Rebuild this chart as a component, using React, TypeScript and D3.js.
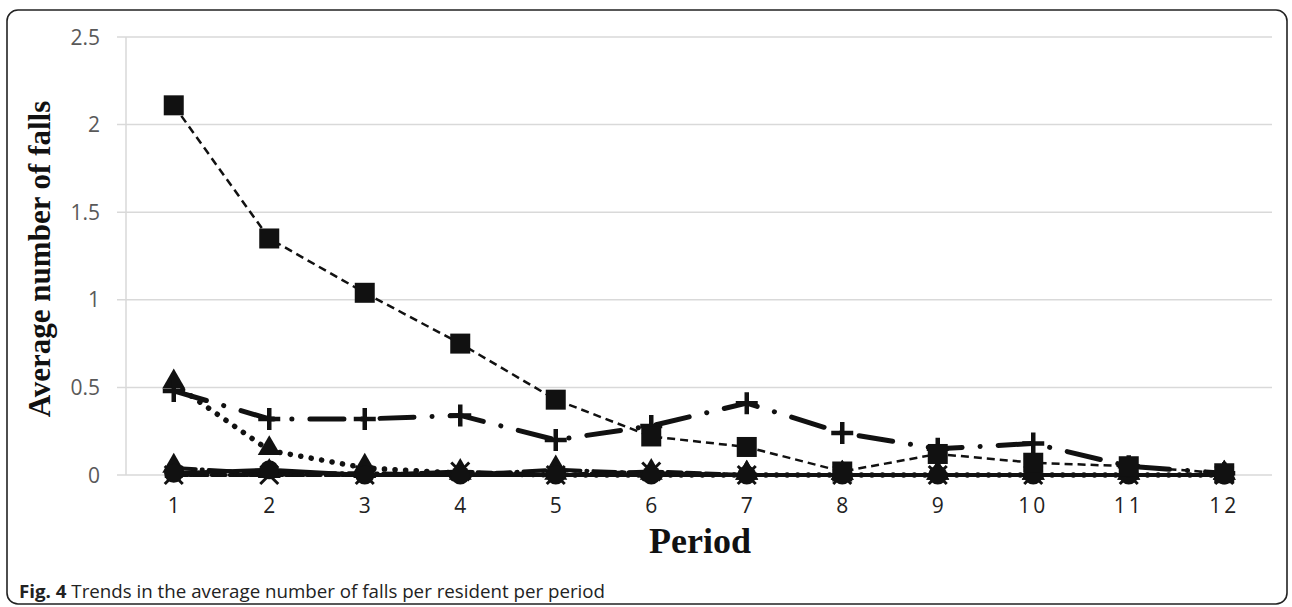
import React from "react";
import * as d3 from "d3";

const periods = ["1", "2", "3", "4", "5", "6", "7", "8", "9", "10", "11", "12"];
const yTicks = [0, 0.5, 1, 1.5, 2, 2.5];

const seriesSquare = [2.11, 1.35, 1.04, 0.75, 0.43, 0.22, 0.16, 0.02, 0.12, 0.07, 0.05, 0.01];
const seriesPlus = [0.48, 0.32, 0.32, 0.34, 0.2, 0.28, 0.41, 0.24, 0.15, 0.18, 0.05, 0.01];
const seriesTriDot = [0.52, 0.14, 0.04, 0.01, 0.0, 0.0, 0.0, 0.0, 0.0, 0.0, 0.0, 0.0];
const seriesCircle = [0.01, 0.03, 0.0, 0.0, 0.0, 0.0, 0.0, 0.0, 0.0, 0.0, 0.0, 0.0];
const seriesCross = [0.0, 0.0, 0.0, 0.02, 0.0, 0.02, 0.0, 0.0, 0.0, 0.0, 0.0, 0.0];
const seriesTriSolid = [0.04, 0.01, 0.01, 0.0, 0.03, 0.01, 0.0, 0.0, 0.0, 0.0, 0.0, 0.0];
const seriesDash = [0.0, 0.0, 0.0, 0.0, 0.0, 0.0, 0.0, 0.0, 0.0, 0.0, 0.0, 0.0];

const W = 1292;
const H = 607;
const plotLeft = 126;
const plotRight = 1272;
const plotTop = 37;
const plotBottom = 475;
const ink = "#111";

type Marker = "square" | "plus" | "triangle" | "circle" | "cross" | "dash";

function markerPath(type: Marker, cx: number, cy: number) {
  if (type === "square") {
    return <rect x={cx - 10} y={cy - 10} width={20} height={20} fill={ink} />;
  }
  if (type === "plus") {
    return (
      <path d={`M${cx - 11},${cy}H${cx + 11}M${cx},${cy - 11}V${cy + 11}`} stroke={ink} strokeWidth={4.5} fill="none" />
    );
  }
  if (type === "triangle") {
    const p = d3.symbol(d3.symbolTriangle, 230)();
    return <path d={p || ""} transform={`translate(${cx},${cy - 2})`} fill={ink} />;
  }
  if (type === "circle") {
    return <circle cx={cx} cy={cy} r={9.5} fill={ink} />;
  }
  if (type === "cross") {
    return (
      <path d={`M${cx - 9},${cy - 9}L${cx + 9},${cy + 9}M${cx + 9},${cy - 9}L${cx - 9},${cy + 9}`} stroke={ink} strokeWidth={3} fill="none" />
    );
  }
  return <rect x={cx - 9} y={cy - 3} width={18} height={6} fill={ink} />;
}

export default function App() {
  const x = d3.scaleBand().domain(periods).range([plotLeft, plotRight]);
  const y = d3.scaleLinear().domain([0, 2.5]).range([plotBottom, plotTop]);
  const cx = (p: string) => (x(p) ?? 0) + x.bandwidth() / 2;
  const line = d3
    .line<number>()
    .x((_, i) => cx(periods[i]))
    .y((d) => y(d));

  const series: { data: number[]; marker: Marker; dash: string; width: number; cap: "round" | "butt" }[] = [
    { data: seriesTriSolid, marker: "triangle", dash: "22,6,1,6", width: 4, cap: "round" },
    { data: seriesCross, marker: "cross", dash: "14,5", width: 4, cap: "round" },
    { data: seriesDash, marker: "dash", dash: "2,6", width: 4, cap: "round" },
    { data: seriesTriDot, marker: "triangle", dash: "0.1,10.5", width: 5.5, cap: "round" },
    { data: seriesCircle, marker: "circle", dash: "", width: 4, cap: "round" },
    { data: seriesPlus, marker: "plus", dash: "34,18,0.1,18", width: 5, cap: "round" },
    { data: seriesSquare, marker: "square", dash: "8,5", width: 2.5, cap: "butt" },
  ];

  return (
    <svg
      width={W}
      height={H}
      style={{ position: "absolute", left: 0, top: 0, display: "block", background: "#fff" }}
    >
      <rect x={7} y={10} width={1280} height={594} rx={11} ry={11} fill="#fff" stroke="#222" strokeWidth={1.6} />

      {yTicks.map((t) => (
        <g key={t}>
          <line x1={117} x2={plotRight} y1={y(t)} y2={y(t)} stroke="#d9d9d9" strokeWidth={1.5} />
          <text
            x={100}
            y={y(t)}
            dy="0.36em"
            textAnchor="end"
            fontFamily="'Open Sans', sans-serif"
            fontSize={21}
            fill="#595959"
          >
            {t}
          </text>
        </g>
      ))}
      <line x1={plotLeft} x2={plotLeft} y1={plotTop} y2={plotBottom} stroke="#d9d9d9" strokeWidth={1.5} />

      {periods.map((p) => (
        <text
          key={p}
          x={cx(p)}
          y={505}
          dy="0.36em"
          textAnchor="middle"
          fontFamily="'Open Sans', sans-serif"
          fontSize={21}
          letterSpacing={p.length > 1 ? 3 : 0}
          fill="#222"
        >
          {p}
        </text>
      ))}

      {series.map((s, si) => (
        <g key={si}>
          <path
            d={line(s.data) || ""}
            fill="none"
            stroke={ink}
            strokeWidth={s.width}
            strokeDasharray={s.dash || undefined}
            strokeLinecap={s.cap}
          />
          {s.data.map((v, i) => (
            <g key={i}>{markerPath(s.marker, cx(periods[i]), y(v))}</g>
          ))}
        </g>
      ))}

      <text
        transform={`translate(50,${(plotTop + plotBottom) / 2 + 3}) rotate(-90)`}
        textAnchor="middle"
        fontFamily="'Liberation Serif', 'Times New Roman', serif"
        fontWeight="bold"
        fontSize={31}
        fill="#111"
      >
        Average number of falls
      </text>
      <text
        x={700}
        y={553}
        textAnchor="middle"
        fontFamily="'Liberation Serif', 'Times New Roman', serif"
        fontWeight="bold"
        fontSize={36}
        fill="#111"
      >
        Period
      </text>

      <text x={19} y={598} fontFamily="'Open Sans', sans-serif" fontSize={18} fill="#222" textLength={586} lengthAdjust="spacingAndGlyphs">
        <tspan fontWeight="bold">Fig. 4</tspan>
        <tspan> Trends in the average number of falls per resident per period</tspan>
      </text>
    </svg>
  );
}
